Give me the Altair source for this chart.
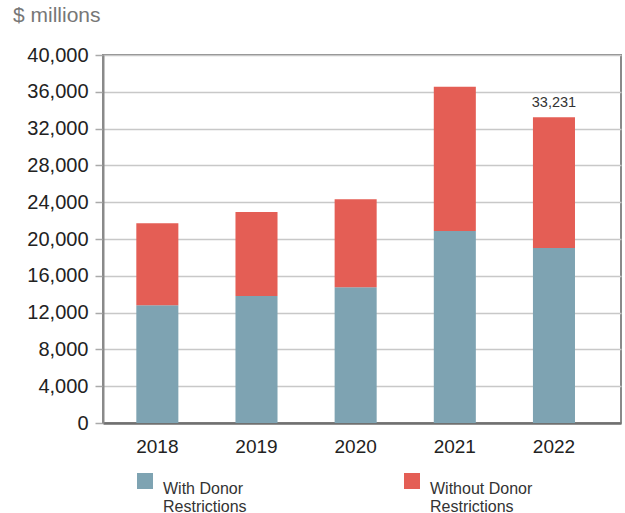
import altair as alt
import pandas as pd

# Net assets by year, split by donor restriction ($ millions)
years = ["2018", "2019", "2020", "2021", "2022"]
with_restrictions = [12800, 13800, 14750, 20870, 19022]
without_restrictions = [8900, 9130, 9570, 15690, 14209]
series_names = ["With Donor Restrictions", "Without Donor Restrictions"]
series_colors = ["#7ea3b2", "#e45e55"]
labelled_years = ["2022"]
y_ticks = list(range(0, 40001, 4000))

rows = []
for i, yr in enumerate(years):
    rows.append({"year": yr, "series": series_names[0], "value": with_restrictions[i], "rank": 0})
    rows.append({"year": yr, "series": series_names[1], "value": without_restrictions[i], "rank": 1})
bars_df = pd.DataFrame(rows)

totals_df = pd.DataFrame({
    "year": years,
    "total": [a + b for a, b in zip(with_restrictions, without_restrictions)],
})
totals_df = totals_df[totals_df["year"].isin(labelled_years)]

FONT = "Liberation Sans"

x_scale = alt.Scale(domain=years, paddingInner=0.576, paddingOuter=0.4, align=0.42)
y_scale = alt.Scale(domain=[0, 40000], nice=False)

x_axis = alt.Axis(
    title=None, labelAngle=0, ticks=False, labelFontSize=19,
    labelColor="#222", labelPadding=14, domainColor="#707070",
    domainWidth=2.5, labelFont=FONT,
)
y_axis = alt.Axis(
    title=None, values=y_ticks, format=",d", labelOverlap=False,
    labelFontSize=20, labelColor="#222", labelFont=FONT,
    tickSize=8, tickColor="#aaaaaa", tickWidth=1.5, labelPadding=7,
    domainColor="#8a8a8a", domainWidth=2,
    grid=True, gridColor="#c8c8c8", gridWidth=1.5,
)

bars = alt.Chart(bars_df).mark_bar().encode(
    x=alt.X("year:N", scale=x_scale, axis=x_axis),
    y=alt.Y("value:Q", stack="zero", scale=y_scale, axis=y_axis),
    color=alt.Color(
        "series:N",
        scale=alt.Scale(domain=series_names, range=series_colors),
        legend=alt.Legend(
            title=None, orient="none", legendX=34, legendY=418,
            direction="horizontal", columns=2, columnPadding=157,
            symbolType="square", symbolSize=256, symbolStrokeWidth=0,
            labelFontSize=16, labelColor="#333", labelFont=FONT,
            labelOffset=10, labelBaseline="top",
            labelExpr="split(replace(datum.label, ' Restrictions', '|Restrictions'), '|')",
        ),
    ),
    order=alt.Order("rank:Q", sort="ascending"),
)

label = alt.Chart(totals_df).mark_text(
    baseline="alphabetic", dy=-10, fontSize=14.5, color="#333", font=FONT,
).encode(
    x=alt.X("year:N", scale=x_scale, axis=x_axis),
    y=alt.Y("total:Q", scale=y_scale, axis=y_axis),
    text=alt.Text("total:Q", format=","),
)

chart = (
    alt.layer(bars, label)
    .properties(
        width=518,
        height=368,
        autosize=alt.AutoSizeParams(type="none"),
        padding={"left": 103, "top": 55, "right": 4, "bottom": 90},
        title=alt.TitleParams(
            "$ millions", anchor="start", frame="group", dx=-90, offset=19.5,
            fontSize=21, fontWeight="normal", color="#777", font=FONT,
        ),
    )
    .configure_view(stroke="#8a8a8a", strokeWidth=2)
)

chart.save("out.html", embed_options={"renderer": "svg", "actions": False})
